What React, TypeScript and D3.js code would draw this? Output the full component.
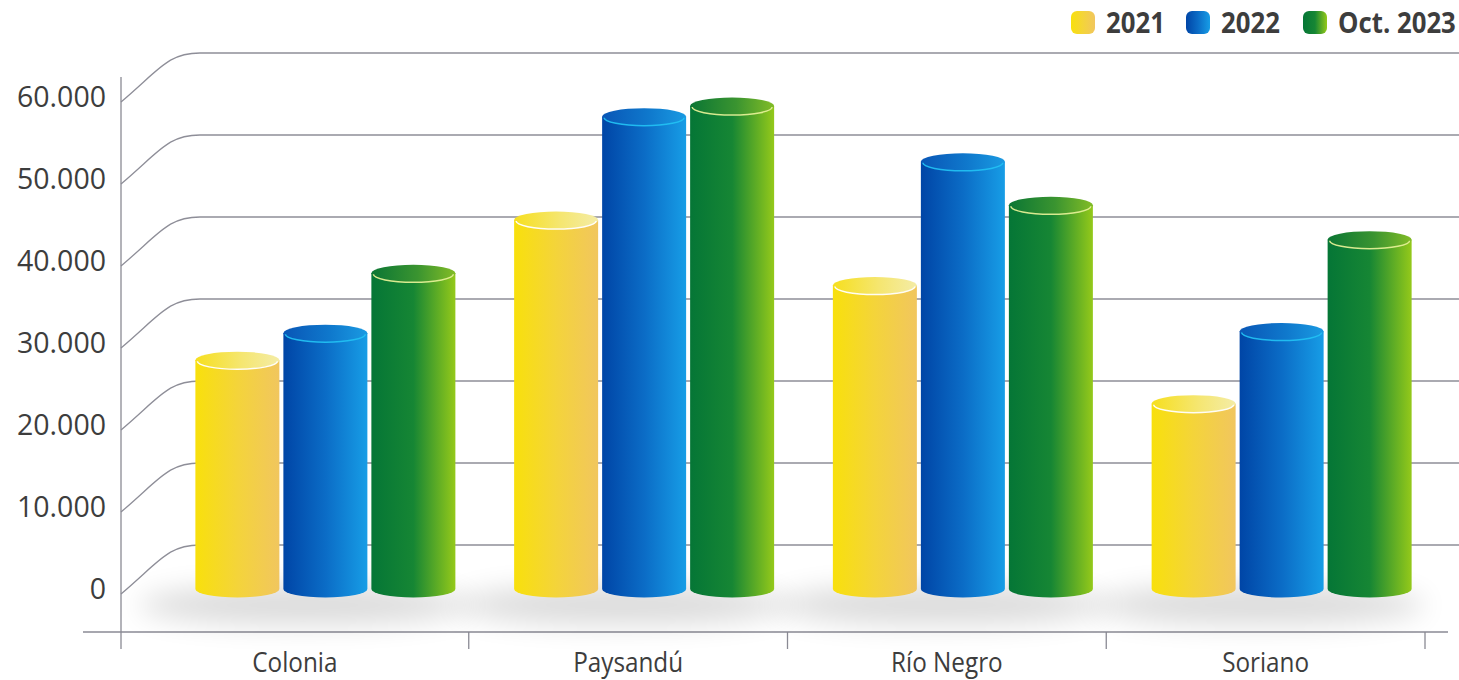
import React from 'react';
import * as d3 from 'd3';

// Departamentos and yearly values
const categories = ['Colonia', 'Paysandú', 'Río Negro', 'Soriano'];
const seriesNames = ['2021', '2022', 'Oct. 2023'];
const values2021 = [27900, 45000, 37000, 22600];
const values2022 = [31200, 57600, 52100, 31400];
const valuesOct2023 = [38500, 58900, 46800, 42600];
const yTicks = [0, 10000, 20000, 30000, 40000, 50000, 60000];

const seriesValues = [values2021, values2022, valuesOct2023];

// Cylinder colours: body gradient, top-cap gradient, rim highlight
const palettes = [
  { body: ['#f8e00c', '#f4d43a', '#f1c65e'], top: ['#f6df1e', '#f5e670', '#f4eca6'], rim: '#ffffff' },
  { body: ['#0045a6', '#0b6cc6', '#179de6'], top: ['#0956b6', '#0f78cc', '#1a9ae2'], rim: '#22c0f2' },
  { body: ['#057636', '#168634', '#94c91a'], top: ['#0b7634', '#3a9430', '#82bc26'], rim: '#e4ef95' },
];

const W = 1459;
const H = 680;
const AXIS_X = 121;
const AXIS_Y = 632;
const GROUP_SHIFT = 16;
const CAP_RY = 8.5;

const fmt = d3.formatLocale({ decimal: ',', thousands: '.', grouping: [3], currency: ['$', ''] }).format(',');

export default function App() {
  const y = d3.scaleLinear().domain([0, 60000]).range([589, 97]);
  const x0 = d3.scaleBand<string>().domain(categories).range([150, 1425]);
  const x1 = d3.scaleBand<string>().domain(seriesNames).range([-130, 130]).paddingInner(4 / 88);

  const boundaries = [AXIS_X, ...categories.slice(1).map((c) => x0(c) as number), x0.range()[1]];
  const groupCenter = (c: string) => (x0(c) as number) + x0.bandwidth() / 2 + GROUP_SHIFT;

  const gridPath = (v: number) => {
    const ys = y(v) + 5;
    const yh = y(v) - 44;
    return `M${AXIS_X},${ys} C${AXIS_X + 39},${ys - 33} ${AXIS_X + 47},${yh} ${AXIS_X + 79},${yh} L${W},${yh}`;
  };

  const legendX = [1071, 1186, 1303];
  const font = "'Open Sans', 'Noto Sans', sans-serif";

  return (
    <svg
      width={W}
      height={H}
      viewBox={`0 0 ${W} ${H}`}
      style={{ position: 'absolute', left: 0, top: 0, background: '#fff' }}
    >
      <defs>
        {palettes.map((p, i) => (
          <React.Fragment key={i}>
            <linearGradient id={`body${i}`} x1="0" x2="1" y1="0" y2="0">
              <stop offset="0%" stopColor={p.body[0]} />
              <stop offset="50%" stopColor={p.body[1]} />
              <stop offset="100%" stopColor={p.body[2]} />
            </linearGradient>
            <linearGradient id={`top${i}`} x1="0" x2="1" y1="0" y2="0">
              <stop offset="0%" stopColor={p.top[0]} />
              <stop offset="55%" stopColor={p.top[1]} />
              <stop offset="100%" stopColor={p.top[2]} />
            </linearGradient>
          </React.Fragment>
        ))}
        <filter id="groundBlur" x="-50%" y="-200%" width="200%" height="500%">
          <feGaussianBlur stdDeviation="14" />
        </filter>
      </defs>

      {/* curved gridlines */}
      <g fill="none" stroke="#8e8e98" strokeWidth={1.3}>
        {yTicks.map((v) => (
          <path key={v} d={gridPath(v)} />
        ))}
      </g>

      {/* y-axis labels */}
      <g fontFamily={font} fontSize={28.5} fill="#3d3d3d" textAnchor="end">
        {yTicks.map((v) => (
          <text key={v} x={106} y={y(v) + 10}>
            {fmt(v)}
          </text>
        ))}
      </g>

      {/* axes */}
      <g stroke="#8a8a94" strokeWidth={1.3}>
        <line x1={AXIS_X} x2={AXIS_X} y1={77} y2={649} />
        <line x1={83} x2={1448} y1={AXIS_Y} y2={AXIS_Y} />
        {boundaries.slice(1).map((bx, i) => (
          <line key={i} x1={bx} x2={bx} y1={AXIS_Y} y2={649} />
        ))}
      </g>

      {/* ground shadows */}
      {categories.map((c) => (
        <ellipse
          key={c}
          cx={groupCenter(c) - 22}
          cy={y(0) + 16}
          rx={165}
          ry={20}
          fill="#000"
          opacity={0.14}
          filter="url(#groundBlur)"
        />
      ))}

      {/* cylinders */}
      {categories.map((c, ci) => (
        <g key={c}>
          {seriesNames.map((s, si) => {
            const v = seriesValues[si][ci];
            const l = groupCenter(c) + (x1(s) as number);
            const w = x1.bandwidth();
            const rx = w / 2;
            const top = y(v);
            const base = y(0);
            const body = `M${l},${top} L${l},${base} A${rx},${CAP_RY} 0 0 0 ${l + w},${base} L${l + w},${top} Z`;
            const rim = `M${l + 2},${top + 1} A${rx - 2},${CAP_RY - 0.5} 0 0 0 ${l + w - 2},${top + 1}`;
            return (
              <g key={s}>
                <path d={body} fill={`url(#body${si})`} />
                <ellipse cx={l + rx} cy={top} rx={rx} ry={CAP_RY} fill={`url(#top${si})`} />
                <path d={rim} fill="none" stroke={palettes[si].rim} strokeWidth={1.5} opacity={0.95} />
              </g>
            );
          })}
        </g>
      ))}

      {/* category labels */}
      <g fontFamily={font} fontSize={27} fill="#3d3d3d" textAnchor="middle">
        {categories.map((c, i) => (
          <text key={c} transform={`translate(${(boundaries[i] + boundaries[i + 1]) / 2},672) scale(0.9,1)`}>
            {c}
          </text>
        ))}
      </g>

      {/* legend */}
      <g fontFamily={font} fontSize={28} fontWeight={700} fill="#3d3d3d">
        {seriesNames.map((s, i) => (
          <g key={s}>
            <rect x={legendX[i]} y={11} width={24} height={23} rx={6} fill={`url(#body${i})`} />
            <text transform={`translate(${legendX[i] + 35},33) scale(0.92,1)`}>{s}</text>
          </g>
        ))}
      </g>
    </svg>
  );
}
